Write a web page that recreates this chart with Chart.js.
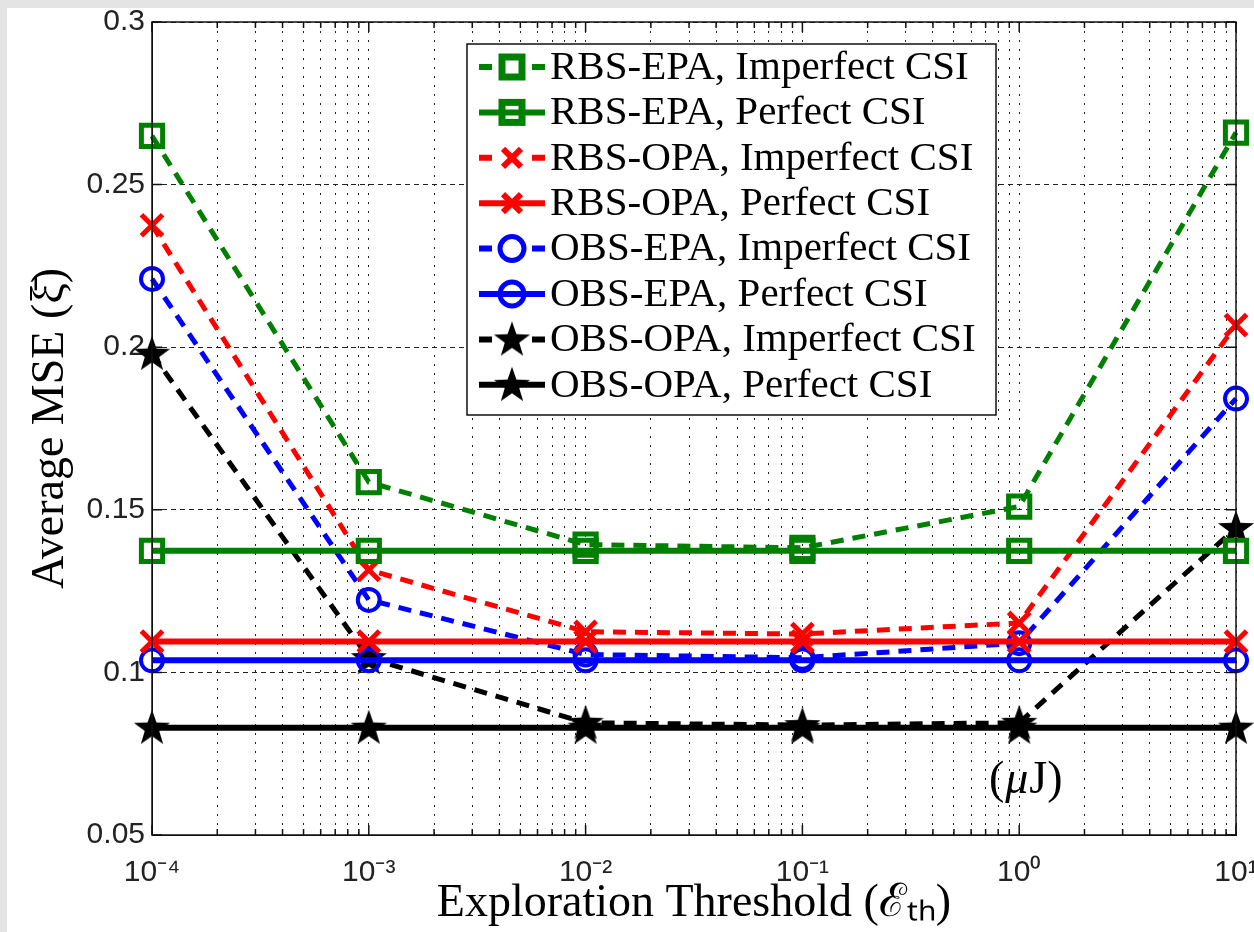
<!DOCTYPE html>
<html>
<head>
<meta charset="utf-8">
<script src="https://cdn.jsdelivr.net/npm/chart.js@4.4.0/dist/chart.umd.min.js"></script>
<style>
html, body { margin: 0; padding: 0; background: #e4e4e4; }
#wrap { position: absolute; left: 7px; top: 8px; width: 1247px; height: 924px; background: #fff; }
</style>
</head>
<body>
<div id="wrap"><canvas id="myChart"></canvas></div>
<script>
// values
const thresholds = [1e-4, 1e-3, 1e-2, 1e-1, 1e0, 1e1];
const rbsEpaImperfect = [0.265, 0.1585, 0.1393, 0.1383, 0.151, 0.266];
const rbsEpaPerfect = [0.1374, 0.1374, 0.1374, 0.1374, 0.1374, 0.1374];
const rbsOpaImperfect = [0.2375, 0.1315, 0.1125, 0.1118, 0.1152, 0.2068];
const rbsOpaPerfect = [0.1095, 0.1095, 0.1095, 0.1095, 0.1095, 0.1095];
const obsEpaImperfect = [0.221, 0.1223, 0.1055, 0.1045, 0.109, 0.1842];
const obsEpaPerfect = [0.1037, 0.1037, 0.1037, 0.1037, 0.1037, 0.1037];
const obsOpaImperfect = [0.198, 0.1044, 0.0845, 0.0838, 0.0845, 0.1444];
const obsOpaPerfect = [0.083, 0.083, 0.083, 0.083, 0.083, 0.083];

const seriesNames = [
  'RBS-EPA, Imperfect CSI', 'RBS-EPA, Perfect CSI',
  'RBS-OPA, Imperfect CSI', 'RBS-OPA, Perfect CSI',
  'OBS-EPA, Imperfect CSI', 'OBS-EPA, Perfect CSI',
  'OBS-OPA, Imperfect CSI', 'OBS-OPA, Perfect CSI'
];

const xDecades = [-4, -3, -2, -1, 0, 1];
const xTickLabels = ['10⁻⁴', '10⁻³', '10⁻²', '10⁻¹', '10⁰', '10¹'];
const yTickValues = [0.05, 0.1, 0.15, 0.2, 0.25, 0.3];
const yTickLabels = ['0.05', '0.1', '0.15', '0.2', '0.25', '0.3'];

// minor + major tick positions for the log axis
const xTickValues = [];
for (let i = 0; i < xDecades.length; i++) {
  const base = Math.pow(10, xDecades[i]);
  xTickValues.push(base);
  if (i < xDecades.length - 1) {
    for (let m = 2; m <= 9; m++) xTickValues.push(m * base);
  }
}
function isDecade(v) {
  const l = Math.log10(v);
  return Math.abs(l - Math.round(l)) < 1e-9;
}

// filled pentagram marker
function makeStar(r) {
  const c = document.createElement('canvas');
  const s = Math.ceil(r * 2 + 4);
  c.width = s; c.height = s;
  const g = c.getContext('2d');
  g.fillStyle = '#000';
  g.beginPath();
  for (let i = 0; i < 10; i++) {
    const rr = i % 2 === 0 ? r : r * 0.4;
    const a = -Math.PI / 2 + i * Math.PI / 5;
    const px = s / 2 + rr * Math.cos(a), py = s / 2 + 1 + rr * Math.sin(a);
    if (i === 0) g.moveTo(px, py); else g.lineTo(px, py);
  }
  g.closePath();
  g.fill();
  return c;
}
const star = makeStar(19);

const green = '#008000', red = '#ff0000', blue = '#0000ff', black = '#000000';
const dash = [13, 9];

function pts(arr) {
  return thresholds.map((x, i) => ({ x: x, y: arr[i] }));
}

function ds(label, arr, color, dashed, marker) {
  const d = {
    label: label,
    data: pts(arr),
    borderColor: color,
    borderWidth: dashed ? 5 : 6,
    borderDash: dashed ? dash : [],
    pointBorderColor: color,
    pointBackgroundColor: 'rgba(0,0,0,0)',
    pointHoverRadius: 0,
    clip: false,
    fill: false,
    tension: 0
  };
  if (marker === 'square') {
    d.pointStyle = 'rect'; d.pointRadius = 15; d.pointBorderWidth = 5;
  } else if (marker === 'x') {
    d.pointStyle = 'crossRot'; d.pointRadius = 15; d.pointBorderWidth = 5;
  } else if (marker === 'circle') {
    d.pointStyle = 'circle'; d.pointRadius = 11; d.pointBorderWidth = 4;
  } else {
    d.pointStyle = star; d.pointRadius = 19;
  }
  d.marker = marker;
  return d;
}

const datasets = [
  ds(seriesNames[0], rbsEpaImperfect, green, true, 'square'),
  ds(seriesNames[1], rbsEpaPerfect, green, false, 'square'),
  ds(seriesNames[2], rbsOpaImperfect, red, true, 'x'),
  ds(seriesNames[3], rbsOpaPerfect, red, false, 'x'),
  ds(seriesNames[4], obsEpaImperfect, blue, true, 'circle'),
  ds(seriesNames[5], obsEpaPerfect, blue, false, 'circle'),
  ds(seriesNames[6], obsOpaImperfect, black, true, 'star'),
  ds(seriesNames[7], obsOpaPerfect, black, false, 'star')
];

function drawMarker(g, marker, color, x, y) {
  g.save();
  g.strokeStyle = color;
  g.setLineDash([]);
  if (marker === 'square') {
    g.lineWidth = 7;
    g.strokeRect(x - 10, y - 10, 20, 20);
  } else if (marker === 'x') {
    g.lineWidth = 6;
    g.beginPath();
    g.moveTo(x - 9, y - 9); g.lineTo(x + 9, y + 9);
    g.moveTo(x + 9, y - 9); g.lineTo(x - 9, y + 9);
    g.stroke();
  } else if (marker === 'circle') {
    g.lineWidth = 5;
    g.beginPath();
    g.arc(x, y, 12, 0, Math.PI * 2);
    g.stroke();
  } else {
    g.drawImage(star, x - star.width / 2, y - star.height / 2);
  }
  g.restore();
}

// box, inside ticks, legend and unit note
const framePlugin = {
  id: 'frame',
  afterDraw(chart) {
    const g = chart.ctx;
    const a = chart.chartArea;
    const xs = chart.scales.x, ys = chart.scales.y;
    g.save();
    g.strokeStyle = '#111';
    g.lineWidth = 1.5;
    g.setLineDash([]);
    g.beginPath();
    xs.ticks.forEach(t => {
      const px = xs.getPixelForValue(t.value);
      const len = isDecade(t.value) ? 10 : 6;
      g.moveTo(px, a.bottom); g.lineTo(px, a.bottom - len);
      g.moveTo(px, a.top); g.lineTo(px, a.top + len);
    });
    ys.ticks.forEach(t => {
      const py = ys.getPixelForValue(t.value);
      g.moveTo(a.left, py); g.lineTo(a.left + 10, py);
      g.moveTo(a.right, py); g.lineTo(a.right - 10, py);
    });
    g.stroke();
    g.strokeRect(a.left, a.top, a.right - a.left, a.bottom - a.top);

    // legend box
    const lx = 460, ly = 36, lw = 529, lh = 371;
    g.fillStyle = '#fff';
    g.fillRect(lx, ly, lw, lh);
    g.lineWidth = 1.5;
    g.strokeStyle = '#111';
    g.strokeRect(lx, ly, lw, lh);
    g.font = '41px "Liberation Serif", "Times New Roman", serif';
    g.textBaseline = 'middle';
    g.textAlign = 'left';
    chart.data.datasets.forEach((d, i) => {
      const cy = ly + 23 + i * 45.4;
      g.save();
      g.strokeStyle = d.borderColor;
      g.lineWidth = 6;
      g.setLineDash(d.borderDash.length ? [13, 40] : []);
      g.beginPath();
      g.moveTo(472, cy); g.lineTo(538, cy);
      g.stroke();
      g.restore();
      drawMarker(g, d.marker, d.borderColor, 505, cy);
      g.fillStyle = '#000';
      g.fillText(d.label, 543, cy + 1);
    });

    // unit note: (μJ) with italic mu
    const upright = '46px "Liberation Serif", "Times New Roman", serif';
    const slanted = 'italic 46px "Liberation Serif", "Times New Roman", serif';
    const parts = [['(', upright], ['μ', slanted], ['J)', upright]];
    let total = 0;
    parts.forEach(p => { g.font = p[1]; total += g.measureText(p[0]).width + 1; });
    let tx = xs.getPixelForValue(1) + 7 - total / 2;
    const ty = ys.getPixelForValue(0.0665);
    g.fillStyle = '#000';
    g.textAlign = 'left';
    parts.forEach(p => {
      g.font = p[1];
      g.fillText(p[0], tx, ty);
      tx += g.measureText(p[0]).width + 1;
    });
    g.restore();
  }
};

Chart.defaults.font.family = '"Liberation Sans", Arial, sans-serif';
Chart.defaults.color = '#222';

const ctx = document.getElementById('myChart');
new Chart(ctx, {
  type: 'line',
  data: { datasets: datasets },
  options: {
    responsive: true,
    maintainAspectRatio: false,
    animation: false,
    layout: { autoPadding: false, padding: { left: 0, top: 14, right: 18, bottom: 0 } },
    plugins: { legend: { display: false }, tooltip: { enabled: false } },
    scales: {
      x: {
        type: 'logarithmic',
        min: 1e-4,
        max: 10,
        afterBuildTicks: (scale) => {
          scale.ticks = xTickValues.map(v => ({ value: v, major: isDecade(v) }));
        },
        afterFit: (scale) => {
          scale.height = 97;
          scale.paddingLeft = 0;
          scale.paddingRight = 0;
        },
        ticks: {
          autoSkip: false,
          maxRotation: 0,
          padding: 20,
          font: { size: 30 },
          color: '#222',
          callback: (v) => {
            if (!isDecade(v)) return '';
            return xTickLabels[xDecades.indexOf(Math.round(Math.log10(v)))];
          }
        },
        grid: { color: '#222', lineWidth: 1, drawTicks: false },
        border: { display: true, color: '#111', dash: [2, 7] },
        title: {
          display: true,
          text: 'Exploration Threshold (ℰₜₕ)',
          font: { family: '"Liberation Serif", "Times New Roman", serif', size: 46 },
          color: '#000',
          padding: { top: 0, bottom: 0 }
        }
      },
      y: {
        type: 'linear',
        min: 0.05,
        max: 0.3,
        afterBuildTicks: (scale) => {
          scale.ticks = yTickValues.map(v => ({ value: v }));
        },
        afterFit: (scale) => {
          scale.width = 145;
          scale.paddingTop = 0;
          scale.paddingBottom = 0;
        },
        ticks: {
          padding: 7,
          font: { size: 30 },
          color: '#222',
          callback: (v, i) => yTickLabels[i]
        },
        grid: { color: '#222', lineWidth: 1, drawTicks: false },
        border: { display: true, color: '#111', dash: [5, 4] },
        title: {
          display: true,
          text: 'Average MSE (ξ̄)',
          font: { family: '"Liberation Serif", "Times New Roman", serif', size: 46 },
          color: '#000',
          padding: { top: 16, bottom: 0 }
        }
      }
    }
  },
  plugins: [framePlugin]
});
</script>
</body>
</html>
